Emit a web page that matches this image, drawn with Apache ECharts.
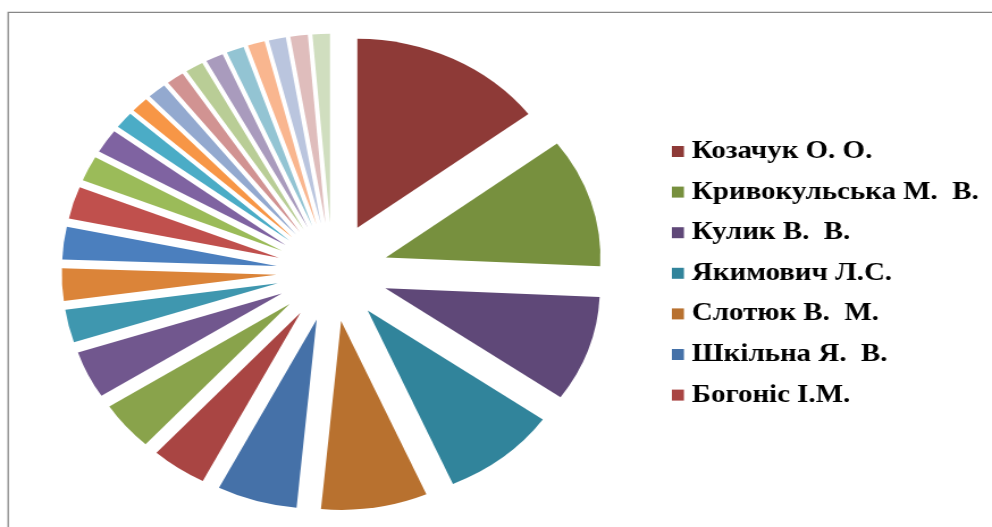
<!DOCTYPE html>
<html>
<head>
<meta charset="utf-8">
<script src="https://cdn.jsdelivr.net/npm/echarts@6/dist/echarts.min.js"></script>
<style>
  html, body { margin: 0; padding: 0; background: #fff; overflow: hidden; }
  #chart { width: 874px; height: 527px; transform: scaleX(1.135); transform-origin: 0 0; }
</style>
</head>
<body>
<div id="chart"></div>
<script>
// Slice names (only the first seven are shown in the legend of the reference)
const names = [
  'Козачук О. О.', 'Кривокульська М.  В.', 'Кулик В.  В.', 'Якимович Л.С.',
  'Слотюк В.  М.', 'Шкільна Я.  В.', 'Богоніс І.М.',
  '№8', '№9', '№10', '№11', '№12', '№13', '№14', '№15', '№16', '№17',
  '№18', '№19', '№20', '№21', '№22', '№23', '№24', '№25', '№26'
];
// Slice values (share, %)
const values = [
  14.7, 11.05, 9.05, 8.7, 8.0, 6.03, 4.19,
  4.17, 4.06, 2.83, 2.78, 2.78, 2.75, 2.14, 2.06, 1.44, 1.33,
  1.42, 1.33, 1.36, 1.33, 1.33, 1.28, 1.28, 1.31, 1.31
];
const colors = [
  '#8E3A37', '#77903E', '#5F4878', '#31849B', '#B8712F', '#4571A8', '#A94543',
  '#89A34B', '#71578E', '#3F97AF', '#DB8439', '#4B7FBE', '#C0504D', '#9BBB59',
  '#7F63A1', '#4BACC6', '#F79646', '#93A9CF', '#D19392', '#B9CD96', '#A99BBD',
  '#93C4D3', '#F9B68F', '#BAC5DE', '#DFBDBC', '#D0DEBF'
];
const legendNames = names.slice(0, 7);

const chart = echarts.init(document.getElementById('chart'), null, { renderer: 'canvas' });
chart.setOption({
  animation: false,
  color: colors,
  graphic: [{
    type: 'rect',
    silent: true,
    shape: { x: 7.2, y: 12.4, width: 3000, height: 3000 },
    style: { fill: 'none', stroke: '#878787', lineWidth: 1.3 }
  }],
  legend: {
    orient: 'vertical',
    left: 592,
    top: 138.5,
    padding: 0,
    itemWidth: 10.6,
    itemHeight: 11,
    itemGap: 14.6,
    icon: 'rect',
    selectedMode: false,
    data: legendNames,
    textStyle: {
      fontFamily: 'Liberation Serif, Times New Roman, serif',
      fontWeight: 'bold',
      fontSize: 25.5,
      lineHeight: 26,
      color: '#000',
      padding: [0, 0, 0, 2]
    }
  },
  series: [{
    type: 'pie',
    center: [292.8, 272.1],
    radius: 189,
    startAngle: 90,
    clockwise: true,
    selectedMode: 'multiple',
    selectedOffset: 49.4,
    label: { show: false },
    labelLine: { show: false },
    emphasis: { disabled: true },
    itemStyle: { borderWidth: 0 },
    data: names.map((n, i) => ({ name: n, value: values[i], selected: true }))
  }]
});
</script>
</body>
</html>
